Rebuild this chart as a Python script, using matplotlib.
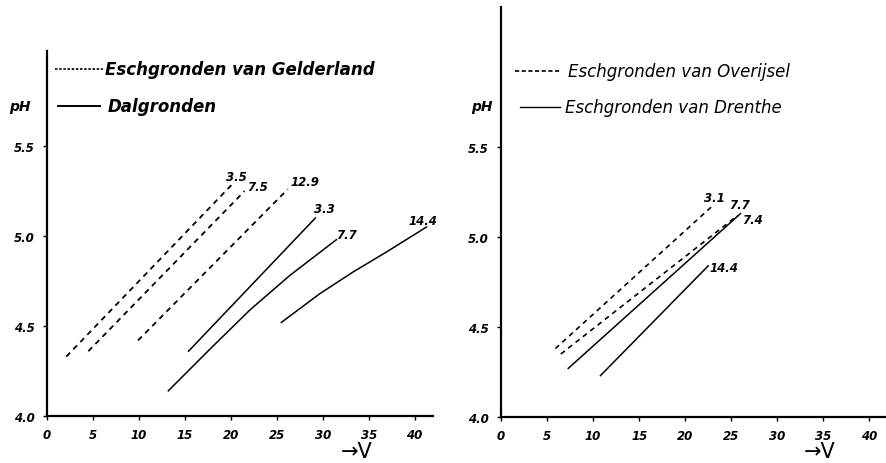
import matplotlib.pyplot as plt

# V (x) en pH (y) per lijn, links Gelderland / Dalgronden, rechts Overijsel / Drenthe
gelderland_labels = ['3.5', '7.5', '12.9']
gelderland_v = [[2.1, 20.2], [4.5, 21.5], [9.9, 26.2]]
gelderland_ph = [[4.33, 5.29], [4.36, 5.25], [4.42, 5.26]]

dal_labels = ['3.3', '7.7', '14.4']
dal_v = [[15.4, 29.2],
         [13.2, 17.7, 22.1, 26.4, 31.5],
         [25.5, 29.7, 33.3, 36.9, 41.3]]
dal_ph = [[4.36, 5.10],
          [4.14, 4.37, 4.59, 4.78, 4.98],
          [4.52, 4.68, 4.80, 4.91, 5.05]]

overijsel_labels = ['3.1', '7.7']
overijsel_v = [[5.9, 22.9], [6.5, 25.7]]
overijsel_ph = [[4.38, 5.17], [4.35, 5.12]]

drenthe_labels = ['7.4', '14.4']
drenthe_v = [[7.3, 26.0], [10.8, 22.5]]
drenthe_ph = [[4.27, 5.13], [4.23, 4.84]]

x_ticks = [0, 5, 10, 15, 20, 25, 30, 35, 40]
y_ticks = [4.0, 4.5, 5.0, 5.5]

W, H = 886, 464
fig = plt.figure(figsize=(W / 100, H / 100), dpi=100)

lab_font = dict(fontstyle='italic', fontweight='bold', fontsize=8.5, color='black')
leg_font = dict(fontstyle='italic', fontsize=12, color='black')
dash = (0, (3, 2.6))


def make_axes(x0, x1, y0, y1, xmax, ymax):
    ax = fig.add_axes([x0 / W, 1 - y1 / H, (x1 - x0) / W, (y1 - y0) / H])
    ax.set_xlim(0, xmax)
    ax.set_ylim(4.0, ymax)
    for s in ['top', 'right']:
        ax.spines[s].set_visible(False)
    for s in ['left', 'bottom']:
        ax.spines[s].set_linewidth(1.6)
    ax.set_xticks(x_ticks)
    ax.set_xticklabels([str(t) for t in x_ticks], **lab_font)
    ax.set_yticks(y_ticks)
    ax.set_yticklabels([f'{t:.1f}' for t in y_ticks], **lab_font)
    ax.tick_params(direction='out', length=3, width=1, pad=6)
    ax.set_facecolor('white')
    return ax


def draw(ax, vs, phs, labels, ls, lw, offsets):
    for v, ph, lab, (dx, dy) in zip(vs, phs, labels, offsets):
        ax.plot(v, ph, color='black', linestyle=ls, linewidth=lw)
        ax.annotate(lab, (v[-1], ph[-1]), xytext=(dx, dy), textcoords='offset points',
                    **lab_font)


# linker grafiek
ax1 = make_axes(47, 433, 52, 417, 42.0, 4.0 + 365 / 180)
draw(ax1, gelderland_v, gelderland_ph, gelderland_labels, dash, 1.3,
     [(-5, 3), (2, 1), (2, 3)])
draw(ax1, dal_v, dal_ph, dal_labels, '-', 1.1,
     [(-1, 4), (0, 1), (-13, 2)])
ax1.plot([0.02, 0.145], [0.951, 0.951], transform=ax1.transAxes, color='black',
         linestyle=(0, (1.5, 1)), linewidth=1.2, clip_on=False)
ax1.text(0.15, 0.951, 'Eschgronden van Gelderland', transform=ax1.transAxes,
         va='center', fontweight='bold', **leg_font)
ax1.plot([0.028, 0.137], [0.849, 0.849], transform=ax1.transAxes, color='black',
         linewidth=1.4, clip_on=False)
ax1.text(0.158, 0.849, 'Dalgronden', transform=ax1.transAxes,
         va='center', fontweight='bold', **leg_font)

# rechter grafiek
ax2 = make_axes(501, 886, 8, 418, 41.8, 4.0 + 410 / 180)
draw(ax2, overijsel_v, overijsel_ph, overijsel_labels, dash, 1.2,
     [(-6, 4), (-6, 5)])
draw(ax2, drenthe_v, drenthe_ph, drenthe_labels, '-', 1.1,
     [(1, -7), (1, -4)])
ax2.plot([0.036, 0.153], [0.844, 0.844], transform=ax2.transAxes, color='black',
         linestyle=(0, (2.5, 1.5)), linewidth=1.2, clip_on=False)
ax2.text(0.174, 0.844, 'Eschgronden van Overijsel', transform=ax2.transAxes,
         va='center', **leg_font)
ax2.plot([0.049, 0.153], [0.756, 0.756], transform=ax2.transAxes, color='black',
         linewidth=1.0, clip_on=False)
ax2.text(0.166, 0.756, 'Eschgronden van Drenthe', transform=ax2.transAxes,
         va='center', **leg_font)

# as-titels
for x in [20, 482]:
    fig.text(x / W, 1 - 107 / H, 'pH', ha='center', va='center',
             fontstyle='italic', fontweight='bold', fontsize=10)
for x in [357, 820]:
    fig.text(x / W, 1 - 452 / H, '\u2192V', ha='center', va='center',
             fontsize=15)

fig.savefig('out.png', dpi=100, facecolor='white')
